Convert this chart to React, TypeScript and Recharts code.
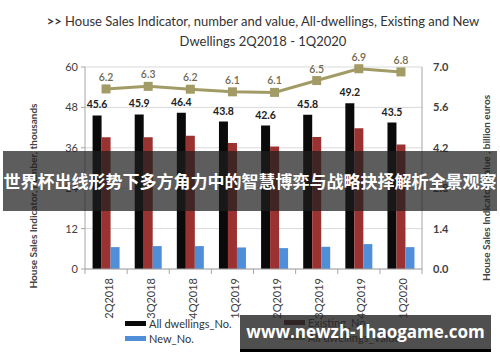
import {
  Bar,
  CartesianGrid,
  ComposedChart,
  LabelList,
  Line,
  XAxis,
  YAxis,
} from 'recharts'

const quarters = ['2Q2018', '3Q2018', '4Q2018', '1Q2019', '2Q2019', '3Q2019', '4Q2019', '1Q2020']
const allDwellings = [45.6, 45.9, 46.4, 43.8, 42.6, 45.8, 49.2, 43.5]
const existing = [39.1, 39.1, 39.6, 37.4, 36.4, 39.2, 41.8, 37.0]
const newDwellings = [6.5, 6.8, 6.8, 6.4, 6.2, 6.6, 7.4, 6.5]
const valueBn = [6.24, 6.33, 6.23, 6.14, 6.12, 6.53, 6.94, 6.83]
const leftTicks = [0, 12, 24, 36, 48, 60]
const rightTicks = [0, 1.4, 2.8, 4.2, 5.6, 7]

const FONT = 'Lato, "Liberation Sans", sans-serif'
const C_ALL = '#0a0a0a'
const C_EXIST = '#9a3232'
const C_NEW = '#4f8ed8'
const C_VALUE = '#a39b66'

const data = quarters.map((q, i) => ({
  quarter: q,
  all: allDwellings[i],
  existing: existing[i],
  newNo: newDwellings[i],
  value: valueBn[i],
}))

function QuarterTick(props: any) {
  const { x, y, payload, index, width } = props
  const half = payload?.offset || width / quarters.length / 2
  const ty = y + 9
  return (
    <g>
      <line x1={x - half} x2={x - half} y1={y} y2={y + 5} stroke="#a6a6a6" />
      {index === quarters.length - 1 && (
        <line x1={x + half} x2={x + half} y1={y} y2={y + 5} stroke="#a6a6a6" />
      )}
      <text
        x={x + 2}
        y={ty}
        transform={`rotate(-90, ${x + 2}, ${ty})`}
        textAnchor="end"
        dominantBaseline="central"
        fontSize={11}
        fill="#404040"
        fontFamily={FONT}
      >
        {payload.value}
      </text>
    </g>
  )
}

function SquareDot(props: any) {
  const { cx, cy, index } = props
  return <rect key={`d${index}`} x={cx - 4.5} y={cy - 4.5} width={9} height={9} fill={C_VALUE} />
}

function Swatch({ color, left, top, label }: { color: string; left: number; top: number; label: string }) {
  return (
    <div style={{ position: 'absolute', left, top, display: 'flex', alignItems: 'center', height: 12 }}>
      <div style={{ width: 21, height: 5, background: color, marginRight: 3 }} />
      <span style={{ fontSize: 11, color: '#333', fontFamily: FONT }}>{label}</span>
    </div>
  )
}

export default function App() {
  return (
    <div
      style={{
        position: 'absolute',
        left: 0,
        top: 0,
        width: 500,
        height: 362,
        background: '#fff',
        fontFamily: FONT,
        overflow: 'hidden',
      }}
    >
      <div style={{ position: 'absolute', left: 0, width: 526, top: 11, textAlign: 'center', fontSize: 13, color: '#333', lineHeight: '20px' }}>
        <div>
          <b>&gt;&gt;</b> House Sales Indicator, number and value, All-dwellings, Existing and New
        </div>
        <div>Dwellings 2Q2018 - 1Q2020</div>
      </div>

      <ComposedChart
        width={500}
        height={362}
        data={data}
        margin={{ top: 67, right: 0, bottom: 48, left: 0 }}
        barCategoryGap="18%"
        barGap={0}
        style={{ position: 'absolute', left: 0, top: 0 }}
      >
        <CartesianGrid yAxisId="left" vertical={false} stroke="#d9d9d9" />
        <XAxis
          dataKey="quarter"
          interval={0}
          height={45}
          tickLine={false}
          tickSize={0}
          tickMargin={0}
          axisLine={{ stroke: '#a6a6a6' }}
          tick={<QuarterTick />}
        />
        <YAxis
          yAxisId="left"
          width={85}
          domain={[0, 60]}
          ticks={leftTicks}
          tickSize={4}
          tickMargin={3}
          axisLine={{ stroke: '#a6a6a6' }}
          tickLine={{ stroke: '#a6a6a6' }}
          tick={{ fontSize: 11, fill: '#404040', fontFamily: FONT }}
        />
        <YAxis
          yAxisId="right"
          orientation="right"
          width={78}
          domain={[0, 7]}
          ticks={rightTicks}
          tickFormatter={(v: number) => v.toFixed(1)}
          tickLine={false}
          tickSize={0}
          tickMargin={11}
          axisLine={{ stroke: '#a6a6a6' }}
          tick={{ fontSize: 11, fill: '#404040', fontWeight: 700, fontFamily: FONT, textAnchor: 'start' }}
        />
        <Bar yAxisId="left" dataKey="all" fill={C_ALL} isAnimationActive={false}>
          <LabelList
            dataKey="all"
            position="top"
            offset={7}
            formatter={(v: any) => Number(v).toFixed(1)}
            style={{ fontSize: 10.5, fontWeight: 700, fill: '#222', fontFamily: FONT }}
          />
        </Bar>
        <Bar yAxisId="left" dataKey="existing" fill={C_EXIST} isAnimationActive={false} />
        <Bar yAxisId="left" dataKey="newNo" fill={C_NEW} isAnimationActive={false} />
        <Line
          yAxisId="right"
          dataKey="value"
          stroke={C_VALUE}
          strokeWidth={3}
          dot={SquareDot}
          activeDot={false}
          isAnimationActive={false}
        >
          <LabelList
            dataKey="value"
            position="top"
            offset={8}
            formatter={(v: any) => Number(v).toFixed(1)}
            style={{ fontSize: 10.5, fontWeight: 600, fill: '#6f6a50', fontFamily: FONT }}
          />
        </Line>
      </ComposedChart>

      <div
        style={{
          position: 'absolute',
          left: 33,
          top: 196,
          transform: 'translate(-50%, -50%) rotate(-90deg)',
          whiteSpace: 'nowrap',
          fontSize: 10,
          fontWeight: 700,
          color: '#444',
        }}
      >
        House Sales Indicator, number, thousands
      </div>
      <div
        style={{
          position: 'absolute',
          left: 486,
          top: 188,
          transform: 'translate(-50%, -50%) rotate(-90deg)',
          whiteSpace: 'nowrap',
          fontSize: 10,
          fontWeight: 700,
          color: '#444',
        }}
      >
        House Sales Indicator, Value , billion euros
      </div>

      <Swatch color={C_ALL} left={125} top={317} label="All dwellings_No." />
      <Swatch color="#4d1818" left={284} top={316} label="Existing_No." />
      <Swatch color={C_NEW} left={125} top={332} label="New_No." />
      <Swatch color={C_VALUE} left={284} top={331} label="All dwellings_Value" />

      <div
        style={{
          position: 'absolute',
          left: 3,
          top: 151,
          width: 494,
          height: 60,
          background: 'rgba(30,30,30,0.72)',
          color: '#fff',
          fontFamily: '"Noto Sans CJK SC", sans-serif',
          fontWeight: 700,
          fontSize: 17,
          lineHeight: '60px',
          textAlign: 'center',
          whiteSpace: 'nowrap',
        }}
      >
        世界杯出线形势下多方角力中的智慧博弈与战略抉择解析全景观察
      </div>

      <div
        style={{
          position: 'absolute',
          left: 240,
          top: 315,
          width: 251,
          height: 34,
          background: 'rgba(40,40,40,0.82)',
          borderBottom: '3px solid #000',
          color: '#fff',
          fontFamily: '"Open Sans", sans-serif',
          fontWeight: 700,
          fontSize: 17,
          lineHeight: '34px',
          textAlign: 'center',
          whiteSpace: 'nowrap',
        }}
      >
        www.newzh-1haogame.com
      </div>
    </div>
  )
}
